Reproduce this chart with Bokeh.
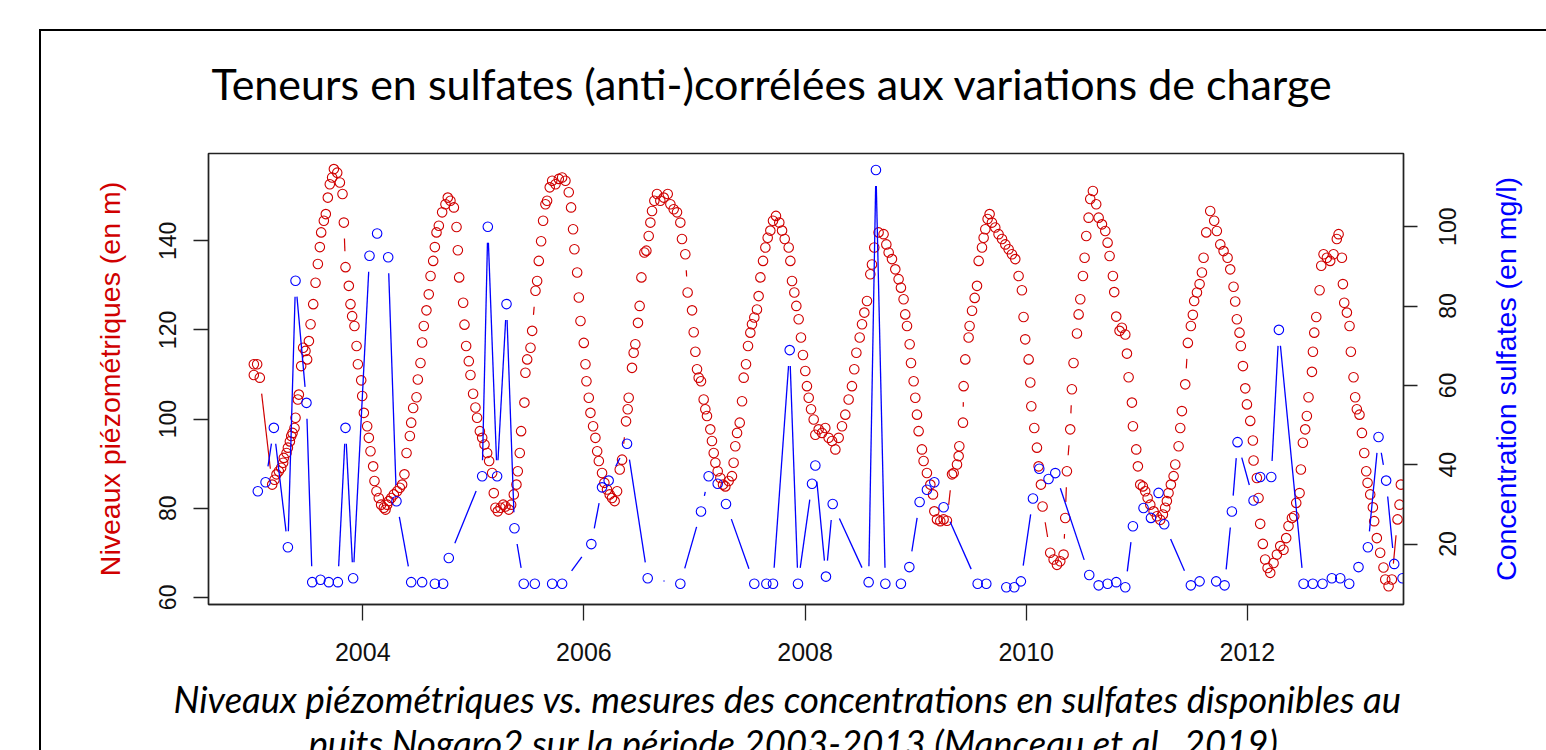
import math
from bokeh.plotting import figure
from bokeh.models import (Range1d, LinearAxis, FixedTicker, Title, BasicTickFormatter,
                          InlineStyleSheet)
from bokeh.embed import file_html
from bokeh.resources import INLINE

# ---------------- data ----------------
piezo_date = [
    2003.015, 2003.015, 2003.045, 2003.069, 2003.181, 2003.202, 2003.220, 2003.241, 2003.262, 2003.280,
    2003.286, 2003.311, 2003.323, 2003.341, 2003.353, 2003.365, 2003.383, 2003.392, 2003.413, 2003.422,
    2003.443, 2003.461, 2003.482, 2003.497, 2003.513, 2003.528, 2003.552, 2003.573, 2003.594, 2003.612,
    2003.624, 2003.648, 2003.666, 2003.684, 2003.702, 2003.723, 2003.739, 2003.769, 2003.793, 2003.817,
    2003.829, 2003.844, 2003.874, 2003.889, 2003.904, 2003.925, 2003.944, 2003.956, 2003.986, 2003.995,
    2004.010, 2004.040, 2004.055, 2004.070, 2004.094, 2004.106, 2004.124, 2004.145, 2004.166, 2004.191,
    2004.206, 2004.221, 2004.236, 2004.257, 2004.281, 2004.311, 2004.335, 2004.356, 2004.377, 2004.396,
    2004.426, 2004.438, 2004.456, 2004.486, 2004.498, 2004.522, 2004.537, 2004.552, 2004.576, 2004.597,
    2004.613, 2004.637, 2004.652, 2004.667, 2004.688, 2004.718, 2004.748, 2004.769, 2004.793, 2004.824,
    2004.848, 2004.860, 2004.872, 2004.908, 2004.920, 2004.935, 2004.959, 2004.974, 2004.998, 2005.019,
    2005.034, 2005.059, 2005.080, 2005.101, 2005.125, 2005.143, 2005.170, 2005.185, 2005.200, 2005.221,
    2005.246, 2005.270, 2005.291, 2005.321, 2005.342, 2005.366, 2005.390, 2005.402, 2005.420, 2005.432,
    2005.462, 2005.471, 2005.487, 2005.517, 2005.532, 2005.562, 2005.577, 2005.592, 2005.613, 2005.631,
    2005.652, 2005.667, 2005.691, 2005.713, 2005.743, 2005.773, 2005.803, 2005.833, 2005.863, 2005.884,
    2005.902, 2005.914, 2005.939, 2005.954, 2005.969, 2005.999, 2006.014, 2006.023, 2006.044, 2006.059,
    2006.083, 2006.104, 2006.120, 2006.135,
    2006.164, 2006.185, 2006.209, 2006.233, 2006.254, 2006.278, 2006.300, 2006.324, 2006.345, 2006.381,
    2006.396, 2006.405, 2006.435, 2006.450, 2006.465, 2006.489, 2006.504, 2006.520, 2006.547, 2006.565,
    2006.586, 2006.601, 2006.616, 2006.637, 2006.661, 2006.691, 2006.722, 2006.758, 2006.782, 2006.812,
    2006.842, 2006.872, 2006.887, 2006.917, 2006.938, 2006.978, 2006.993, 2007.008, 2007.023, 2007.038,
    2007.059, 2007.083, 2007.098, 2007.113, 2007.143, 2007.158, 2007.174, 2007.189, 2007.210, 2007.234,
    2007.258, 2007.279, 2007.309, 2007.339, 2007.354, 2007.369, 2007.385, 2007.409, 2007.430, 2007.445,
    2007.466, 2007.484, 2007.505, 2007.520, 2007.541, 2007.565, 2007.580, 2007.596, 2007.620, 2007.641,
    2007.662, 2007.686, 2007.710, 2007.737, 2007.767, 2007.792, 2007.816, 2007.852, 2007.867, 2007.882,
    2007.903, 2007.921, 2007.942, 2007.963, 2007.981, 2008.002, 2008.017, 2008.033, 2008.054, 2008.078,
    2008.093, 2008.123, 2008.153, 2008.183, 2008.213, 2008.244, 2008.274, 2008.304, 2008.334, 2008.364,
    2008.394, 2008.424, 2008.445, 2008.464, 2008.494, 2008.515, 2008.536, 2008.560, 2008.590, 2008.605,
    2008.626, 2008.665, 2008.710, 2008.735, 2008.756, 2008.786, 2008.816, 2008.846, 2008.867, 2008.891,
    2008.906, 2008.922, 2008.946, 2008.958, 2008.982, 2008.997, 2009.012, 2009.027, 2009.057, 2009.072,
    2009.102, 2009.133, 2009.157, 2009.169, 2009.193, 2009.223, 2009.253, 2009.283, 2009.329, 2009.344,
    2009.374, 2009.389, 2009.395, 2009.428, 2009.434, 2009.449, 2009.479, 2009.488, 2009.510, 2009.534,
    2009.555, 2009.570, 2009.600, 2009.615, 2009.630, 2009.651, 2009.669,
    2009.690, 2009.720, 2009.750, 2009.781, 2009.811, 2009.841, 2009.871, 2009.901, 2009.931, 2009.961,
    2009.976, 2009.991, 2010.022, 2010.037, 2010.046, 2010.073, 2010.097, 2010.112, 2010.133, 2010.148,
    2010.217, 2010.248, 2010.278, 2010.308, 2010.338, 2010.353, 2010.368, 2010.398, 2010.413, 2010.428,
    2010.459, 2010.474, 2010.489, 2010.513, 2010.528, 2010.543, 2010.564, 2010.579, 2010.603, 2010.633,
    2010.655, 2010.685, 2010.715, 2010.736, 2010.754, 2010.784, 2010.796, 2010.814, 2010.844, 2010.865,
    2010.896, 2010.911, 2010.926, 2010.956, 2010.965, 2010.995, 2011.010, 2011.031, 2011.055, 2011.076,
    2011.098, 2011.122, 2011.152, 2011.182, 2011.212, 2011.236, 2011.257, 2011.272, 2011.287, 2011.308,
    2011.333, 2011.348, 2011.378, 2011.393, 2011.408, 2011.438, 2011.462, 2011.489, 2011.507, 2011.519,
    2011.544, 2011.568, 2011.589, 2011.604, 2011.628, 2011.664, 2011.700, 2011.724, 2011.755, 2011.785,
    2011.821, 2011.845, 2011.875, 2011.890, 2011.905, 2011.929, 2011.941, 2011.960, 2011.981, 2011.996,
    2012.026, 2012.050, 2012.056, 2012.086, 2012.101, 2012.116, 2012.140, 2012.161, 2012.183, 2012.207,
    2012.237, 2012.267, 2012.297, 2012.327, 2012.351, 2012.372, 2012.403, 2012.424, 2012.442, 2012.472,
    2012.484, 2012.502, 2012.523, 2012.538, 2012.553, 2012.584, 2012.593, 2012.605, 2012.623, 2012.653,
    2012.668, 2012.689, 2012.719, 2012.749, 2012.779, 2012.809, 2012.825, 2012.855, 2012.864, 2012.876,
    2012.900, 2012.924, 2012.936, 2012.960, 2012.975, 2012.990, 2013.014, 2013.036, 2013.057, 2013.075,
    2013.087, 2013.111, 2013.135, 2013.147, 2013.171, 2013.201, 2013.231, 2013.247, 2013.277, 2013.307,
    2013.358, 2013.376, 2013.388,
]
piezo_level = [
    112.3, 109.9, 112.3, 109.3, 85.3, 86.4, 87.6, 88.3, 89.1, 90.2,
    91.3, 92.4, 93.6, 95.0, 96.2, 96.9, 98.0, 100.3, 104.4, 105.5,
    111.9, 116.0, 115.3, 113.4, 117.5, 121.3, 125.8, 130.6, 134.8, 138.6,
    141.9, 144.5, 146.0, 149.7, 152.7, 154.2, 156.1, 155.3, 153.1, 150.5,
    144.1, 134.1, 129.9, 125.8, 123.1, 120.9, 116.4, 112.3, 108.7, 105.2,
    101.4, 98.4, 95.8, 92.8, 89.4, 86.1, 83.8, 82.3, 80.8, 80.1,
    79.7, 80.8, 81.6, 82.3, 83.1, 83.8, 84.6, 85.3, 87.6, 92.4,
    96.2, 99.2, 102.5, 104.9, 108.9, 112.6, 117.2, 120.9, 124.4, 128.0,
    132.1, 135.5, 138.6, 141.9, 143.4, 146.4, 148.2, 149.7, 149.0, 147.5,
    143.1, 137.9, 131.8, 126.1, 121.2, 116.4, 113.0, 109.9, 105.7, 102.6,
    100.3, 97.3, 95.8, 94.3, 92.4, 90.6, 87.9, 83.4, 80.1, 79.3,
    80.1, 80.8, 80.4, 79.7, 80.8, 83.1, 85.3, 88.3, 92.4, 97.3,
    103.7, 110.4, 113.4, 116.0, 119.8, 128.8, 131.0, 135.5, 139.9, 144.5,
    148.2, 149.0, 152.0, 153.5, 152.7, 153.9, 154.2, 153.5, 150.9, 147.5,
    142.6, 138.1, 132.9, 127.3, 122.0, 117.1, 112.3, 108.5, 104.8, 101.4,
    98.4, 95.8, 92.8, 90.6,
    87.9, 85.7, 84.2, 83.1, 82.3, 81.6, 83.8, 88.7, 90.9, 99.5,
    102.2, 104.8, 111.5, 114.9, 116.8, 121.6, 125.4, 131.8, 137.4, 137.8,
    141.1, 144.1, 146.7, 149.0, 150.5, 149.0, 149.7, 150.5, 148.2, 147.1,
    146.4, 144.1, 140.4, 137.0, 128.4, 124.4, 119.5, 115.1, 111.2, 109.3,
    108.5, 104.4, 102.2, 100.7, 97.7, 95.1, 92.4, 90.2, 88.3, 86.8,
    85.3, 84.9, 86.1, 87.2, 90.2, 93.9, 96.9, 99.2, 104.0, 109.3,
    112.3, 116.4, 119.4, 121.3, 122.8, 124.6, 127.6, 131.8, 135.5, 138.5,
    140.7, 142.3, 144.5, 145.6, 144.1, 142.3, 140.4, 138.5, 135.5, 131.0,
    128.4, 125.4, 122.4, 118.3, 114.4, 110.8, 107.4, 104.8, 102.2, 99.9,
    96.5, 97.7, 96.9, 98.0, 95.8, 95.1, 93.2, 95.8, 98.4, 101.0,
    104.4, 107.4, 111.2, 114.9, 118.3, 121.3, 123.9, 126.5, 132.5, 134.7,
    138.5, 141.9, 141.5, 139.2, 137.4, 135.9, 133.6, 131.4, 129.5, 126.9,
    123.5, 120.9, 116.8, 112.6, 108.5, 104.8, 101.0, 97.3, 93.2, 90.6,
    87.9, 85.3, 83.1, 79.3, 77.5, 77.1, 77.5, 77.2, 87.6, 87.9,
    89.8, 91.7, 93.9, 99.2, 107.4, 113.4, 118.3, 120.9, 124.3, 127.2,
    129.9, 135.5, 138.5, 140.7, 142.6, 144.9, 146.0,
    144.1, 143.0, 141.5, 140.4, 139.2, 138.1, 137.0, 135.9, 132.1, 128.9,
    122.9, 117.9, 113.4, 108.2, 102.9, 98.0, 93.6, 89.4, 85.3, 80.4,
    70.0, 68.5, 67.3, 68.1, 69.6, 77.8, 88.3, 97.7, 106.7, 112.6,
    119.2, 123.5, 126.9, 132.1, 136.2, 141.1, 145.2, 149.4, 151.2, 148.2,
    145.2, 143.7, 142.2, 139.6, 136.6, 132.1, 128.5, 123.0, 119.8, 120.5,
    119.0, 114.7, 109.4, 103.7, 98.4, 93.2, 89.4, 85.3, 84.9, 83.8,
    82.3, 80.8, 79.3, 78.2, 77.4, 78.6, 80.1, 81.6, 83.4, 85.3,
    87.2, 89.8, 93.9, 98.0, 101.8, 107.8, 117.1, 120.9, 123.4, 126.5,
    128.4, 130.3, 132.9, 136.2, 141.9, 146.7, 144.5, 142.2, 139.2, 137.7,
    136.2, 133.6, 129.7, 126.4, 122.4, 119.4, 116.4, 111.9, 106.9, 103.3,
    99.6, 95.2, 90.7, 86.8, 82.3, 76.5, 72.0, 68.5, 66.6, 65.5,
    67.7, 69.6, 71.5, 70.7, 73.3, 76.0, 77.8, 78.2, 81.2, 83.4,
    88.7, 94.7, 97.7, 100.7, 104.9, 110.6, 115.1, 119.4, 122.9, 128.9,
    134.4, 137.0, 136.2, 135.5, 137.0, 140.4, 141.5, 136.2, 130.3, 126.1,
    123.9, 120.9, 115.1, 109.4, 104.9, 102.2, 101.0, 96.9, 92.4, 88.3,
    85.7, 83.1, 80.2, 77.1, 73.3, 70.0, 66.7, 64.0, 62.5, 64.0,
    77.5, 80.8, 85.3,
]

sulfate_date = [
    2003.051, 2003.121, 2003.196, 2003.323, 2003.392, 2003.491, 2003.543, 2003.618, 2003.693, 2003.775,
    2003.844, 2003.913, 2004.061, 2004.130, 2004.230, 2004.305, 2004.438, 2004.537, 2004.652, 2004.727,
    2004.778, 2005.080, 2005.131, 2005.215, 2005.300, 2005.372, 2005.456, 2005.556, 2005.713, 2005.803,
    2006.067, 2006.164, 2006.224, 2006.390, 2006.577, 2006.872, 2007.059, 2007.128, 2007.210, 2007.285,
    2007.541, 2007.650, 2007.710, 2007.861, 2007.936, 2008.063, 2008.093, 2008.189, 2008.250, 2008.575,
    2008.641, 2008.726, 2008.867, 2008.943, 2009.036, 2009.102, 2009.169, 2009.253, 2009.561, 2009.639,
    2009.820, 2009.892, 2009.952, 2010.061, 2010.118, 2010.202, 2010.263, 2010.570, 2010.655, 2010.736,
    2010.814, 2010.896, 2010.965, 2011.061, 2011.128, 2011.197, 2011.248, 2011.489, 2011.568, 2011.718,
    2011.794, 2011.860, 2011.911, 2012.056, 2012.116, 2012.216, 2012.285, 2012.508, 2012.592, 2012.680,
    2012.764, 2012.840, 2012.921, 2013.005, 2013.090, 2013.186, 2013.255, 2013.328, 2013.403,
]
sulfate_conc = [
    33.3, 35.6, 49.3, 19.2, 86.4, 55.6, 10.4, 11.0, 10.4, 10.4,
    49.3, 11.4, 92.7, 98.3, 92.3, 30.8, 10.4, 10.4, 10.0, 10.0,
    16.5, 37.1, 100.0, 37.1, 80.5, 24.0, 10.0, 10.0, 10.0, 10.0,
    20.0, 34.3, 36.0, 45.3, 11.4, 10.0, 28.2, 37.1, 35.2, 30.1,
    10.0, 10.0, 10.0, 68.9, 10.0, 35.2, 39.8, 11.8, 30.1, 10.4,
    114.3, 10.0, 10.0, 14.2, 30.6, 33.7, 35.6, 29.3, 10.0, 10.0,
    9.1, 9.1, 10.6, 31.5, 39.0, 36.4, 37.9, 12.2, 9.6, 10.0,
    10.4, 9.1, 24.5, 29.1, 26.6, 32.9, 25.0, 9.6, 10.6, 10.6,
    9.6, 28.2, 45.7, 31.0, 36.9, 36.9, 74.0, 10.0, 10.0, 10.0,
    11.4, 11.4, 10.0, 14.2, 19.2, 47.0, 36.0, 15.0, 11.4,
]

year_ticks = [2004, 2006, 2008, 2010, 2012]
level_ticks = [60, 80, 100, 120, 140]
conc_ticks = [20, 40, 60, 80, 100]

title_text = "Teneurs en sulfates (anti-)corrélées aux variations de charge"
caption_1 = "Niveaux piézométriques vs. mesures des concentrations en sulfates disponibles au"
caption_2 = "puits Nogaro2 sur la période 2003-2013 (Manceau et al., 2019)"
left_label = "Niveaux piézométriques (en m)"
right_label = "Concentration sulfates (en mg/l)"

# ---------------- layout / style ----------------
RED = "#D00000"
BLUE = "#0000FF"
INK = "#222222"
X0 = 2002.605
X1 = X0 + 10.807
L0, L1 = 58.4, 159.6
C0, C1 = 4.77, 118.46
FW, FH = 1195, 451

p = figure(frame_width=FW, frame_height=FH,
           min_border_left=208, min_border_right=143, min_border_top=153, min_border_bottom=146,
           x_range=Range1d(X0, X1), y_range=Range1d(L0, L1),
           output_backend="svg", toolbar_location=None)
p.extra_y_ranges = {"conc": Range1d(C0, C1)}
p.background_fill_color = "white"
p.border_fill_color = "white"
p.xgrid.visible = False
p.ygrid.visible = False
p.outline_line_color = INK
p.outline_line_width = 1.5

# slide frame (black line on the left and top of the slide area)
p.stylesheets = [InlineStyleSheet(css=(
    ":host { position: relative; }"
    ":host::after { content: ''; position: absolute; left: 39px; top: 29px; right: 0; bottom: 0;"
    " border-left: 2px solid black; border-top: 2px solid black; pointer-events: none; z-index: 100; }"
))]


def style_axis(ax, size):
    ax.axis_line_color = INK
    ax.axis_line_width = 1.3
    ax.major_tick_line_color = INK
    ax.major_tick_line_width = 1.3
    ax.major_tick_in = 0
    ax.major_tick_out = 15
    ax.minor_tick_in = 0
    ax.minor_tick_out = 0
    ax.major_label_text_font = "Liberation Sans"
    ax.major_label_text_font_size = size
    ax.major_label_text_color = "#111111"
    ax.axis_label_text_font = "Liberation Sans"
    ax.axis_label_text_font_style = "normal"
    ax.axis_label_text_font_size = "28.5px"


xa = p.xaxis[0]
style_axis(xa, "25px")
xa.ticker = FixedTicker(ticks=year_ticks)
xa.formatter = BasicTickFormatter(use_scientific=False)
xa.major_tick_out = 16
xa.major_label_standoff = 22

ya = p.yaxis[0]
style_axis(ya, "23px")
ya.ticker = FixedTicker(ticks=level_ticks)
ya.major_label_orientation = "vertical"
ya.major_label_standoff = 17
ya.axis_label = left_label
ya.axis_label_text_color = RED
ya.axis_label_standoff = 31

# right side: tick marks, then labels reading bottom-to-top (as in R), then the title
RT_PX = 23.0
RL_PX = 28.5
DIGIT_EM = 0.556
RIGHT_LABEL_EM = 14.17
c_per_px = (C1 - C0) / FH

ra_ticks = LinearAxis(y_range_name="conc", ticker=FixedTicker(ticks=conc_ticks),
                      major_label_overrides={v: "" for v in conc_ticks})
style_axis(ra_ticks, "0px")
ra_ticks.major_tick_out = 14
ra_ticks.major_label_standoff = 0
p.add_layout(ra_ticks, "right")

conc_text = [str(v) for v in conc_ticks]
lab_pos = [v - 0.5 * len(s) * DIGIT_EM * RT_PX * c_per_px for v, s in zip(conc_ticks, conc_text)]
ra_lab = LinearAxis(y_range_name="conc", ticker=FixedTicker(ticks=lab_pos),
                    major_label_overrides={t: s for t, s in zip(lab_pos, conc_text)})
style_axis(ra_lab, "%gpx" % RT_PX)
ra_lab.axis_line_color = None
ra_lab.major_tick_line_color = None
ra_lab.major_tick_out = 0
ra_lab.major_label_orientation = math.pi / 2
ra_lab.major_label_standoff = 30
p.add_layout(ra_lab, "right")

ttl_pos = 0.5 * (C0 + C1) - 0.5 * RIGHT_LABEL_EM * RL_PX * c_per_px
ra_ttl = LinearAxis(y_range_name="conc", ticker=FixedTicker(ticks=[ttl_pos]),
                    major_label_overrides={ttl_pos: right_label})
style_axis(ra_ttl, "%gpx" % RL_PX)
ra_ttl.axis_line_color = None
ra_ttl.major_tick_line_color = None
ra_ttl.major_tick_out = 0
ra_ttl.major_label_orientation = math.pi / 2
ra_ttl.major_label_text_color = BLUE
ra_ttl.major_label_standoff = 39
p.add_layout(ra_ttl, "right")

# ---------------- R type="b" style: lines with gaps around points ----------------
GAP = 16.0
sx = FW / (X1 - X0)


def gapped(xs, ys, sy):
    a0, b0, a1, b1 = [], [], [], []
    for i in range(len(xs) - 1):
        dx = xs[i + 1] - xs[i]
        dy = ys[i + 1] - ys[i]
        d = math.hypot(dx * sx, dy * sy)
        if d > 2 * GAP:
            f = GAP / d
            a0.append(xs[i] + f * dx)
            b0.append(ys[i] + f * dy)
            a1.append(xs[i + 1] - f * dx)
            b1.append(ys[i + 1] - f * dy)
    return a0, b0, a1, b1


ra0, rb0, ra1, rb1 = gapped(piezo_date, piezo_level, FH / (L1 - L0))
p.segment(ra0, rb0, ra1, rb1, line_color=RED, line_width=1.2)
p.scatter(piezo_date, piezo_level, marker="circle", size=9.5, fill_color=None,
          line_color=RED, line_width=1.1)

ba0, bb0, ba1, bb1 = gapped(sulfate_date, sulfate_conc, FH / (C1 - C0))
p.segment(ba0, bb0, ba1, bb1, line_color=BLUE, line_width=1.3, y_range_name="conc")
p.scatter(sulfate_date, sulfate_conc, marker="circle", size=9.5, fill_color=None,
          line_color=BLUE, line_width=1.1, y_range_name="conc")

# ---------------- title and caption ----------------
p.title.text = title_text
p.title.align = "left"
p.title.offset = 3
p.title.text_font = "Lato"
p.title.text_font_size = "43px"
p.title.text_font_style = "normal"
p.title.text_color = "black"
p.title.standoff = 89

cap1 = Title(text=caption_1, align="left", offset=-35, text_font="Lato",
             text_font_style="italic", text_font_size="36.5px", text_color="black",
             standoff=27, vertical_align="top")
cap2 = Title(text=caption_2, align="left", offset=100, text_font="Lato",
             text_font_style="italic", text_font_size="36.5px", text_color="black",
             standoff=-32, vertical_align="top")
p.add_layout(cap1, "below")
p.add_layout(cap2, "below")

open("out.html", "w").write(file_html(p, INLINE))
